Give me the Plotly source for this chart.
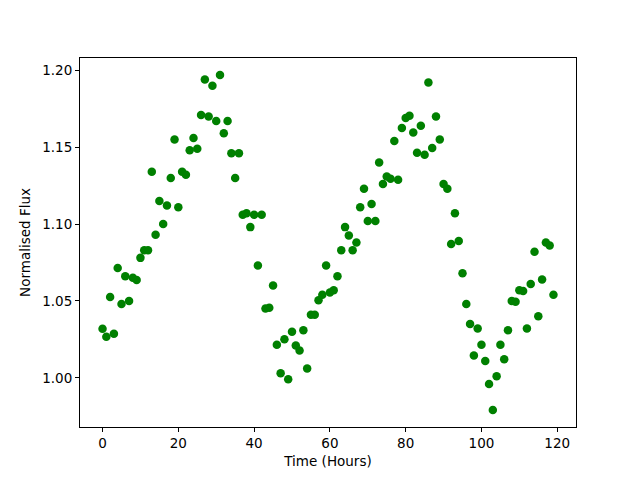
import plotly.graph_objects as go

hours = list(range(120))
flux = [
    1.0319, 1.0267, 1.0526, 1.0287, 1.0714, 1.0480, 1.0660, 1.0500, 1.0650, 1.0636,
    1.0780, 1.0830, 1.0830, 1.1340, 1.0930, 1.1150, 1.1000, 1.1120, 1.1300, 1.1550,
    1.1110, 1.1340, 1.1320, 1.1480, 1.1560, 1.1490, 1.1710, 1.1940, 1.1700, 1.1900,
    1.1670, 1.1970, 1.1590, 1.1670, 1.1460, 1.1300, 1.1460, 1.1060, 1.1070, 1.0980,
    1.1060, 1.0730, 1.1060, 1.0450, 1.0455, 1.0600, 1.0215, 1.0030, 1.0250, 0.9990,
    1.0300, 1.0210, 1.0177, 1.0310, 1.0060, 1.0410, 1.0410, 1.0505, 1.0540, 1.0730,
    1.0555, 1.0570, 1.0660, 1.0830, 1.0980, 1.0925, 1.0830, 1.0880, 1.1110, 1.1230,
    1.1020, 1.1130, 1.1020, 1.1400, 1.1260, 1.1310, 1.1295, 1.1540, 1.1288, 1.1625,
    1.1690, 1.1705, 1.1596, 1.1463, 1.1640, 1.1450, 1.1920, 1.1495, 1.1700, 1.1550,
    1.1260, 1.1230, 1.0870, 1.1070, 1.0890, 1.0680, 1.0480, 1.0350, 1.0145, 1.0320,
    1.0215, 1.0110, 0.9960, 0.9790, 1.0010, 1.0215, 1.0120, 1.0310, 1.0500, 1.0495,
    1.0570, 1.0565, 1.0320, 1.0610, 1.0820, 1.0400, 1.0640, 1.0880, 1.0860, 1.0540,
]

fig = go.Figure(
    go.Scatter(
        x=hours, y=flux, mode="markers",
        marker=dict(color="#008000", size=8.5, line=dict(width=0)),
    )
)

axis_common = dict(
    showline=True, linecolor="black", linewidth=1, mirror=True,
    ticks="outside", ticklen=4, tickwidth=1, tickcolor="black",
    showgrid=False, zeroline=False,
    tickfont=dict(family="DejaVu Sans", size=13.5, color="black"),
)

fig.update_layout(
    width=640, height=480,
    margin=dict(l=80, r=64, t=58, b=53, autoexpand=False),
    paper_bgcolor="white", plot_bgcolor="white",
    showlegend=False,
    font=dict(family="DejaVu Sans", size=13.5, color="black"),
    xaxis=dict(
        range=[-5.95, 124.95], tickvals=[0, 20, 40, 60, 80, 100, 120],
        title=dict(text="Time (Hours)", standoff=6,
                   font=dict(family="DejaVu Sans", size=13.5, color="black")),
        **axis_common,
    ),
    yaxis=dict(
        range=[0.968, 1.208], tickvals=[1.00, 1.05, 1.10, 1.15, 1.20],
        tickformat=".2f",
        title=dict(text="Normalised Flux", standoff=8,
                   font=dict(family="DejaVu Sans", size=13.5, color="black")),
        **axis_common,
    ),
)

fig.write_html(
    "out.html",
    config={"displayModeBar": False},
    post_script="document.body.style.margin='0';document.body.style.padding='0';",
)
